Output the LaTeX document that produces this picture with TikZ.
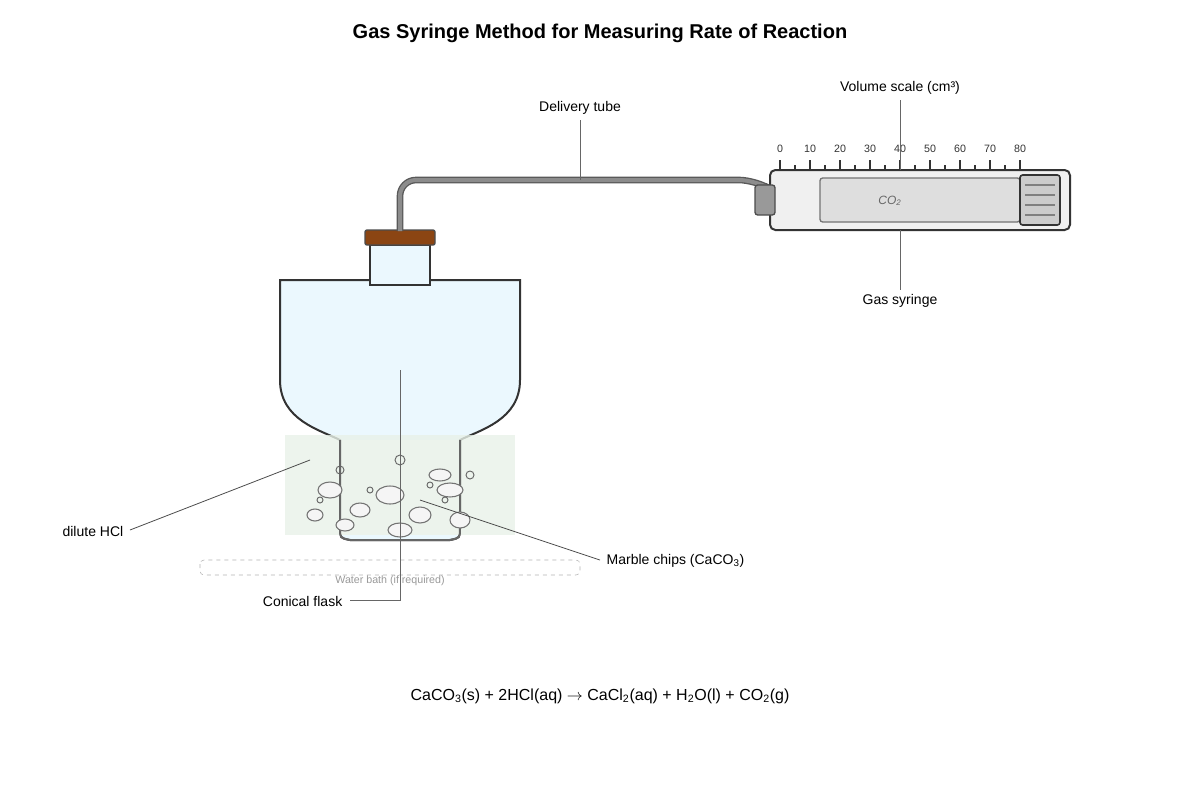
\documentclass[tikz,border=0pt]{standalone}
\usepackage{fontspec}
\setmainfont{Liberation Sans}
\definecolor{cork}{HTML}{8B4513}
\begin{document}
\begin{tikzpicture}[x=0.75pt,y=-0.75pt,
  lbl/.style={font=\fontsize{10.5}{12}\selectfont,text=black},
  lead/.style={draw=black!70,line width=0.6pt},
  bub/.style={draw=black!55,fill=black!4,line width=0.8pt},
  sb/.style={draw=black!60,line width=0.7pt}]
\useasboundingbox (0,0) rectangle (1200,800);
\node[font=\bfseries\fontsize{15}{18}\selectfont] (title) at (600,33) {Gas Syringe Method for Measuring Rate of Reaction};
% water bath
\draw[black!30,dashed,rounded corners=3] (200,560) rectangle (580,575);
\node[font=\fontsize{8}{9}\selectfont,text=black!40] (wb) at (390,581) {Water bath (if required)};
% flask
\draw[line width=1.5pt,draw=black!80,fill=cyan!8!white] (370,280) -- (280,280) -- (280,380)
  .. controls (280,420) and (320,430) .. (340,440) -- (340,528) .. controls (340,538) .. (350,540)
  -- (450,540) .. controls (460,538) .. (460,528) -- (460,440)
  .. controls (480,430) and (520,420) .. (520,380) -- (520,280) -- (430,280);
\draw[line width=1.5pt,draw=black!80,fill=cyan!8!white] (370,245) rectangle (430,285);
\fill[green!40!black!9,opacity=0.8] (285,435) rectangle (515,535);
\fill[green!40!black!7,opacity=0.8] (341,440) rectangle (459,535);
\draw[line width=1.5pt,draw=black!60] (340,440) -- (340,528) .. controls (340,538) .. (350,540) -- (450,540) .. controls (460,538) .. (460,528) -- (460,440);
\draw[line width=1pt,fill=cork,draw=black!70,rounded corners=1.5] (365,230) rectangle (435,245);
% bubbles
\foreach \x/\y/\a/\b in {330/490/12/8,360/510/10/7,390/495/14/9,420/515/11/8,450/490/13/7,440/475/11/6,315/515/8/6,345/525/9/6,400/530/12/7,460/520/10/8}
  \draw[bub] (\x,\y) ellipse[x radius=\a*0.75pt,y radius=\b*0.75pt];
\foreach \x/\y/\r in {340/470/4,400/460/5,320/500/3,370/490/3,430/485/3,445/500/3,470/475/4}
  \draw[sb] (\x,\y) circle[radius=\r*0.75pt];
% delivery tube
\draw[line width=5pt,black!65,rounded corners=12] (400,231) -- (400,180) -- (755,180) -- (765,186);
\draw[line width=3pt,black!45,rounded corners=12] (400,231) -- (400,180) -- (755,180) -- (765,186);
% syringe
\draw[line width=1.5pt,draw=black!80,fill=black!6,rounded corners=4] (770,170) rectangle (1070,230);
\draw[line width=1pt,draw=black!55,fill=black!13,rounded corners=2] (820,178) rectangle (1020,222);
\node[font=\itshape\fontsize{9}{10}\selectfont,text=black!60] (co2) at (890,201) {CO\textsubscript{2}};
\draw[line width=1.2pt,draw=black!80,fill=black!20,rounded corners=2] (1020,175) rectangle (1060,225);
\foreach \y in {185,195,205,215} \draw[black!50,line width=1pt] (1025,\y) -- (1055,\y);
\draw[line width=1pt,draw=black!70,fill=black!40,rounded corners=2] (755,185) rectangle (775,215);
\foreach \i in {0,...,8} {
  \draw[black!80,line width=0.8pt] (780+30*\i,160) -- (780+30*\i,170);
  \node[font=\fontsize{8}{9}\selectfont,text=black!80] at (780+30*\i,149) {\pgfmathparse{int(10*\i)}\pgfmathresult};
}
\foreach \i in {0,...,7} \draw[black!80,line width=0.8pt] (795+30*\i,165) -- (795+30*\i,170);
% labels
\node[lbl] (vs) at (900,88) {Volume scale (cm³)};
\draw[lead,black!60] (900,100) -- (900,170);
\node[lbl] (gs) at (900,301) {Gas syringe};
\draw[lead,black!60] (900,230) -- (900,290);
\node[lbl] (dt) at (580,108) {Delivery tube};
\draw[lead,black!60] (580,120) -- (580,180);
\node[lbl,anchor=east] (cf) at (347,601) {Conical flask};
\draw[lead,black!60] (400,370) -- (400,600) -- (350,600);
\node[lbl,anchor=east] (hcl) at (128,531) {dilute HCl};
\draw[lead] (310,460) -- (130,530);
\node[lbl,anchor=west] (mc) at (602,561) {Marble chips (CaCO\textsubscript{3})};
\draw[lead] (420,500) -- (600,560);
\node[font=\fontsize{12}{14}\selectfont] (eq) at (600,696) {CaCO\textsubscript{3}(s) + 2HCl(aq) $\rightarrow$ CaCl\textsubscript{2}(aq) + H\textsubscript{2}O(l) + CO\textsubscript{2}(g)};
\end{tikzpicture}
\end{document}
